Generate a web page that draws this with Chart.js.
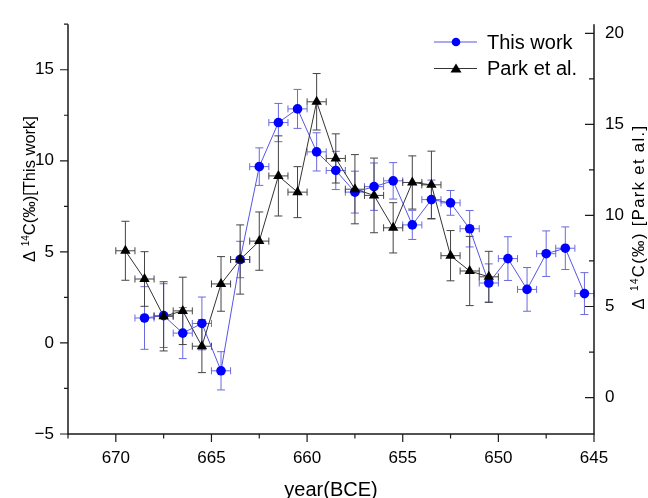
<!DOCTYPE html>
<html>
<head>
<meta charset="utf-8">
<script src="https://cdn.jsdelivr.net/npm/chart.js@4.4.1/dist/chart.umd.min.js"></script>
<style>
html,body{margin:0;padding:0;background:#fff;}
#wrap{width:648px;height:498px;}
</style>
</head>
<body>
<div id="wrap"><canvas id="c" width="648" height="498"></canvas></div>
<script>
// ---- data ----
const thisYears = [668.5, 667.5, 666.5, 665.5, 664.5, 663.5, 662.5, 661.5, 660.5, 659.5, 658.5, 657.5, 656.5, 655.5, 654.5, 653.5, 652.5, 651.5, 650.5, 649.5, 648.5, 647.5, 646.5, 645.5];
const thisValues = [1.37, 1.50, 0.54, 1.07, -1.53, 4.58, 9.68, 12.10, 12.85, 10.49, 9.47, 8.28, 8.58, 8.90, 6.48, 7.87, 7.69, 6.27, 3.29, 4.63, 2.94, 4.90, 5.20, 2.71];
const thisErrors = [1.72, 1.75, 1.40, 1.45, 1.05, 1.00, 1.03, 1.05, 1.07, 1.05, 1.05, 1.15, 1.30, 1.00, 0.80, 1.07, 0.68, 1.00, 1.05, 1.20, 1.20, 1.25, 1.17, 1.15];

const parkYears = [669.5, 668.5, 667.5, 666.5, 665.5, 664.5, 663.5, 662.5, 661.5, 660.5, 659.5, 658.5, 657.5, 656.5, 655.5, 654.5, 653.5, 652.5, 651.5, 650.5];
// Park et al. values in right-axis units
const parkValues = [8.06, 6.51, 4.46, 4.76, 2.82, 6.24, 7.58, 8.59, 12.17, 11.28, 16.24, 13.13, 11.44, 11.10, 9.32, 11.81, 11.68, 7.79, 6.95, 6.63];
const parkErrors = [1.62, 1.50, 1.90, 1.85, 1.45, 1.50, 1.90, 1.60, 2.20, 1.40, 1.55, 1.35, 1.90, 2.05, 1.38, 1.46, 1.85, 1.38, 1.90, 1.40];

const yearError = 0.5;
const xTickValues = [645, 647.5, 650, 652.5, 655, 657.5, 660, 662.5, 665, 667.5, 670, 672.5];
const leftTickValues = [-5, -2.5, 0, 2.5, 5, 7.5, 10, 12.5, 15, 17.5];
const rightTickValues = [0, 2.5, 5, 7.5, 10, 12.5, 15, 17.5, 20];
const seriesLabels = ['This work', 'Park et al.'];
const xTitle = 'year(BCE)';
const leftTitleParts = ['\u0394 ', '14', 'C(\u2030)[This work]'];
const rightTitleParts = ['\u0394 ', '14', 'C(\u2030) [Park et al.]'];

// ---- styles ----
const BLUE = '#0000ff';
const BLUE_LINE = '#5555e6';
const BLUE_ERR = '#6a6ae0';
const BLACK = '#000000';
const BLACK_LINE = '#333333';
const BLACK_ERR = '#444444';
const AXIS = '#1a1a1a';
const TEXT_FONT = "'Liberation Sans', Arial, sans-serif";

function isMajor(v){ return Math.abs(v/5 - Math.round(v/5)) < 1e-6; }
function fmt(v){ if(!isMajor(v)) return ''; const r = Math.round(v); return r < 0 ? '\u2212' + Math.abs(r) : String(r); }
function setTicks(vals){ return s => { s.ticks = vals.map(v => ({value: v})); }; }

const errorBarPlugin = {
  id: 'errorBars',
  beforeDatasetsDraw(chart){
    const ctx = chart.ctx;
    const xs = chart.scales.x;
    [0, 1].forEach(di => {
      const ds = chart.data.datasets[di];
      const ys = chart.scales[ds.yAxisID];
      ctx.save();
      ctx.strokeStyle = ds.errColor;
      ctx.lineWidth = 1;
      ds.data.forEach((p, i) => {
        const e = ds.errors[i];
        const px = xs.getPixelForValue(p.x);
        const py = ys.getPixelForValue(p.y);
        const yT = ys.getPixelForValue(p.y + e);
        const yB = ys.getPixelForValue(p.y - e);
        const xL = xs.getPixelForValue(p.x + yearError);
        const xR = xs.getPixelForValue(p.x - yearError);
        ctx.beginPath();
        ctx.moveTo(px, yT); ctx.lineTo(px, yB);
        ctx.moveTo(px - 4, yT); ctx.lineTo(px + 4, yT);
        ctx.moveTo(px - 4, yB); ctx.lineTo(px + 4, yB);
        ctx.moveTo(xL, py); ctx.lineTo(xR, py);
        ctx.moveTo(xL, py - 3.5); ctx.lineTo(xL, py + 3.5);
        ctx.moveTo(xR, py - 3.5); ctx.lineTo(xR, py + 3.5);
        ctx.stroke();
      });
      ctx.restore();
    });
  }
};

function drawVTitle(ctx, cx, cy, parts, big, small, spacing){
  ctx.save();
  ctx.translate(cx, cy);
  ctx.rotate(-Math.PI/2);
  ctx.fillStyle = '#000';
  ctx.textAlign = 'left';
  ctx.textBaseline = 'alphabetic';
  if ('letterSpacing' in ctx) ctx.letterSpacing = spacing + 'px';
  const specs = [
    {t: parts[0], f: big + 'px ' + TEXT_FONT, dy: 0},
    {t: parts[1], f: small + 'px ' + TEXT_FONT, dy: -big*0.38},
    {t: parts[2], f: big + 'px ' + TEXT_FONT, dy: 0}
  ];
  let total = 0;
  specs.forEach(s => { ctx.font = s.f; s.w = ctx.measureText(s.t).width; total += s.w; });
  let x = -total/2;
  specs.forEach(s => { ctx.font = s.f; ctx.fillText(s.t, x, s.dy); x += s.w; });
  ctx.restore();
}

const axesPlugin = {
  id: 'axesDecor',
  afterDraw(chart){
    const ctx = chart.ctx;
    const a = chart.chartArea;
    const xs = chart.scales.x, yl = chart.scales.y, yr = chart.scales.y2;
    ctx.save();
    ctx.strokeStyle = AXIS;
    ctx.lineWidth = 1.5;
    ctx.beginPath();
    ctx.moveTo(a.left, a.top); ctx.lineTo(a.left, a.bottom); ctx.lineTo(a.right, a.bottom); ctx.lineTo(a.right, a.top);
    ctx.stroke();
    ctx.lineWidth = 1.2;
    ctx.beginPath();
    xs.ticks.forEach(t => {
      const px = xs.getPixelForValue(t.value);
      const len = isMajor(t.value) ? 8 : 4.5;
      ctx.moveTo(px, a.bottom); ctx.lineTo(px, a.bottom + len);
    });
    yl.ticks.forEach(t => {
      const py = yl.getPixelForValue(t.value);
      const len = isMajor(t.value) ? 8 : 4;
      ctx.moveTo(a.left - len, py); ctx.lineTo(a.left, py);
    });
    yr.ticks.forEach(t => {
      const py = yr.getPixelForValue(t.value);
      const len = isMajor(t.value) ? 9 : 5;
      ctx.moveTo(a.right - len, py); ctx.lineTo(a.right, py);
    });
    ctx.stroke();
    ctx.restore();

    // axis titles
    ctx.save();
    ctx.fillStyle = '#000';
    ctx.font = '20px ' + TEXT_FONT;
    ctx.textAlign = 'center';
    ctx.textBaseline = 'alphabetic';
    ctx.fillText(xTitle, (a.left + a.right)/2, 496);
    ctx.restore();
    drawVTitle(ctx, 35, 189, leftTitleParts, 16.5, 10, 0);
    drawVTitle(ctx, 644, 217, rightTitleParts, 16.5, 10, 1.4);

    // legend
    const items = [
      {ds: chart.data.datasets[0], y: 42},
      {ds: chart.data.datasets[1], y: 68.5}
    ];
    items.forEach(it => {
      ctx.save();
      ctx.strokeStyle = it.ds.borderColor;
      ctx.lineWidth = 1;
      ctx.beginPath(); ctx.moveTo(434, it.y); ctx.lineTo(477, it.y); ctx.stroke();
      ctx.fillStyle = it.ds.pointBackgroundColor;
      if (it.ds.pointStyle === 'circle') {
        ctx.beginPath(); ctx.arc(456, it.y, 4.3, 0, Math.PI*2); ctx.fill();
      } else {
        ctx.beginPath();
        ctx.moveTo(456, it.y - 5); ctx.lineTo(461.5, it.y + 4); ctx.lineTo(450.5, it.y + 4); ctx.closePath(); ctx.fill();
      }
      ctx.fillStyle = '#000';
      ctx.font = '20px ' + TEXT_FONT;
      ctx.textAlign = 'left';
      ctx.textBaseline = 'middle';
      ctx.fillText(it.ds.label, 487, it.y + 1);
      ctx.restore();
    });
  }
};

const tickFont = {family: TEXT_FONT, size: 17};

const chart = new Chart(document.getElementById('c'), {
  type: 'line',
  data: {
    datasets: [
      {
        label: seriesLabels[0],
        data: thisYears.map((x, i) => ({x: x, y: thisValues[i]})),
        errors: thisErrors,
        errColor: BLUE_ERR,
        yAxisID: 'y',
        borderColor: BLUE_LINE,
        borderWidth: 1,
        pointStyle: 'circle',
        pointRadius: 4.8,
        pointBackgroundColor: BLUE,
        pointBorderColor: BLUE,
        pointBorderWidth: 0,
        tension: 0,
        fill: false,
        order: 1
      },
      {
        label: seriesLabels[1],
        data: parkYears.map((x, i) => ({x: x, y: parkValues[i]})),
        errors: parkErrors,
        errColor: BLACK_ERR,
        yAxisID: 'y2',
        borderColor: BLACK_LINE,
        borderWidth: 1,
        pointStyle: 'triangle',
        pointRadius: 6,
        pointBackgroundColor: BLACK,
        pointBorderColor: BLACK,
        pointBorderWidth: 0,
        tension: 0,
        fill: false,
        order: 0
      }
    ]
  },
  options: {
    responsive: false,
    animation: false,
    devicePixelRatio: 1,
    layout: {padding: {top: 13, left: 0, right: 0, bottom: 0}},
    plugins: {legend: {display: false}, tooltip: {enabled: false}},
    scales: {
      x: {
        type: 'linear',
        reverse: true,
        min: 645,
        max: 672.5,
        grid: {display: false, drawTicks: false},
        border: {display: false},
        afterBuildTicks: setTicks(xTickValues),
        ticks: {autoSkip: false, maxRotation: 0, padding: 14, color: '#000', font: tickFont, callback: v => fmt(v)},
        afterFit: s => { s.height = 64; }
      },
      y: {
        position: 'left',
        min: -5,
        max: 17.5,
        grid: {display: false, drawTicks: false},
        border: {display: false},
        afterBuildTicks: setTicks(leftTickValues),
        ticks: {autoSkip: false, padding: 14, color: '#000', font: tickFont, callback: v => fmt(v)},
        afterFit: s => { s.width = 68; }
      },
      y2: {
        position: 'right',
        min: -2,
        max: 20.5,
        grid: {display: false, drawTicks: false},
        border: {display: false},
        afterBuildTicks: setTicks(rightTickValues),
        ticks: {autoSkip: false, padding: 11, color: '#000', font: tickFont, callback: v => fmt(v)},
        afterFit: s => { s.width = 54; }
      }
    }
  },
  plugins: [errorBarPlugin, axesPlugin]
});
</script>
</body>
</html>
